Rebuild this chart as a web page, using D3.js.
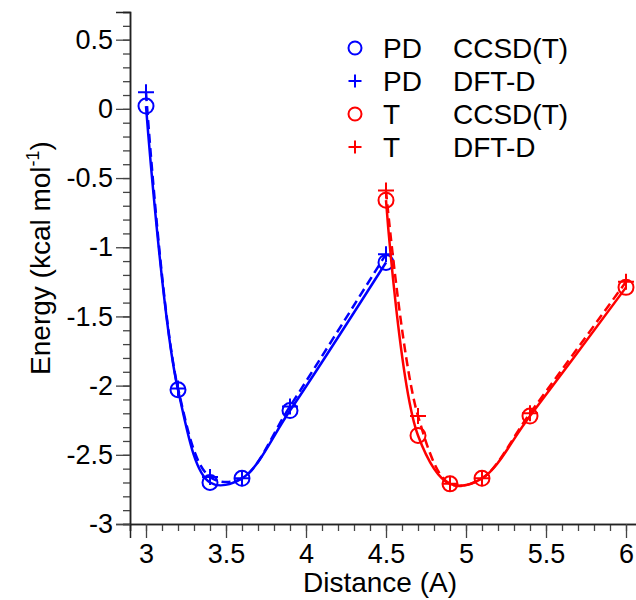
<!DOCTYPE html>
<html lang="en">
<head>
<meta charset="utf-8">
<script src="https://cdn.jsdelivr.net/npm/d3@7"></script>
<style>
  body { margin: 0; background: #fff; }
  svg { display: block; font-family: "Liberation Sans", Arial, sans-serif; }
</style>
</head>
<body>
<script>
// distances (A)
const pdDist = [3.0, 3.2, 3.4, 3.6, 3.9, 4.5]
const tDist = [4.5, 4.7, 4.9, 5.1, 5.4, 6.0]
// energies (kcal/mol)
const pdCCSD = [0.02, -2.03, -2.70, -2.67, -2.18, -1.11]
const pdDFT = [0.12, -2.02, -2.66, -2.67, -2.15, -1.05]
const tCCSD = [-0.66, -2.36, -2.71, -2.67, -2.22, -1.29]
const tDFT = [-0.59, -2.22, -2.71, -2.67, -2.20, -1.25]
// ticks
const xTicks = [3, 3.5, 4, 4.5, 5, 5.5, 6]
const yTicks = [0.5, 0, -0.5, -1, -1.5, -2, -2.5, -3]
// legend
const legendSystem = ['PD', 'PD', 'T', 'T']
const legendMethod = ['CCSD(T)', 'DFT-D', 'CCSD(T)', 'DFT-D']

const w = 636, h = 600
const margin = {left: 130, top: 12, bottom: 76}
const blue = '#0000ff', red = '#ff0000'

const svg = d3.select('body').append('svg')
    .attr('width', w)
    .attr('height', h)

const x = d3.scaleLinear().domain([2.9, 6.1]).range([margin.left, margin.left + 3.2 * 160])
const y = d3.scaleLinear().domain([-3, 0.7]).range([h - margin.bottom, margin.top])

// plain hyphen minus like the original
const fmt = d => String(d)

// axes: major ticks with labels, then minor ticks without
const xAxis = d3.axisBottom(x).tickValues(xTicks).tickSize(14).tickPadding(6).tickFormat(fmt)
const xMinor = d3.axisBottom(x).ticks(32).tickSize(7).tickFormat('')
const yAxis = d3.axisLeft(y).tickValues(yTicks).tickSize(14).tickPadding(3).tickFormat(fmt)
const yMinor = d3.axisLeft(y).ticks(37).tickSize(7).tickFormat('')

function styleAxis(g) {
    g.select('.domain').attr('stroke', '#222').attr('stroke-width', 1.5)
    g.selectAll('.tick line').attr('stroke', '#444').attr('stroke-width', 1.3)
    g.selectAll('text').attr('fill', '#000').attr('font-size', 27)
        .attr('font-family', '"Liberation Sans", Arial, sans-serif')
}

svg.append('g').attr('transform', 'translate(0,' + y(-3) + ')').call(xMinor).call(styleAxis)
svg.append('g').attr('transform', 'translate(0,' + y(-3) + ')').call(xAxis).call(styleAxis)
svg.append('g').attr('transform', 'translate(' + x(2.9) + ',0)').call(yMinor).call(styleAxis)
svg.append('g').attr('transform', 'translate(' + x(2.9) + ',0)').call(yAxis).call(styleAxis)

// axis titles
svg.append('text')
    .attr('x', 380).attr('y', 592)
    .attr('text-anchor', 'middle')
    .attr('font-size', 28)
    .text('Distance (A)')

const yTitle = svg.append('text')
    .attr('transform', 'translate(50,258) rotate(-90)')
    .attr('text-anchor', 'middle')
    .attr('font-size', 28)
yTitle.append('tspan').text('Energy (kcal mol')
yTitle.append('tspan').attr('font-size', 18).attr('dy', -11).text('-1')
yTitle.append('tspan').attr('dy', 11).text(')')

// series
const series = [
    {xs: pdDist, ys: pdCCSD, color: blue, dash: null, mark: 'circle'},
    {xs: pdDist, ys: pdDFT, color: blue, dash: '9,5', mark: 'plus'},
    {xs: tDist, ys: tCCSD, color: red, dash: null, mark: 'circle'},
    {xs: tDist, ys: tDFT, color: red, dash: '9,5', mark: 'plus'}
]

const line = d3.line()
    .x(d => x(d[0]))
    .y(d => y(d[1]))
    .curve(d3.curveCatmullRom.alpha(0.5))

function drawMark(g, mark, color, cx, cy, r) {
    if (mark === 'circle') {
        g.append('circle').attr('cx', cx).attr('cy', cy).attr('r', r)
            .attr('fill', 'none').attr('stroke', color).attr('stroke-width', 2)
    } else {
        g.append('path')
            .attr('d', 'M' + (cx - r) + ',' + cy + 'H' + (cx + r) + 'M' + cx + ',' + (cy - r) + 'V' + (cy + r))
            .attr('stroke', color).attr('stroke-width', 2).attr('fill', 'none')
    }
}

series.forEach(s => {
    const pts = s.xs.map((v, i) => [v, s.ys[i]])
    svg.append('path')
        .datum(pts)
        .attr('d', line)
        .attr('fill', 'none')
        .attr('stroke', s.color)
        .attr('stroke-width', 2.5)
        .attr('stroke-dasharray', s.dash)
    const g = svg.append('g')
    pts.forEach(p => drawMark(g, s.mark, s.color, x(p[0]), y(p[1]), s.mark === 'circle' ? 7.5 : 8))
})

// legend
const legendY = [48, 81, 114, 147]
series.forEach((s, i) => {
    const g = svg.append('g')
    drawMark(g, s.mark, s.color, 355, legendY[i], 6.5)
    g.append('text').attr('x', 383).attr('y', legendY[i] + 10)
        .attr('font-size', 28).text(legendSystem[i])
    g.append('text').attr('x', 453).attr('y', legendY[i] + 10)
        .attr('font-size', 28).text(legendMethod[i])
})
</script>
</body>
</html>
